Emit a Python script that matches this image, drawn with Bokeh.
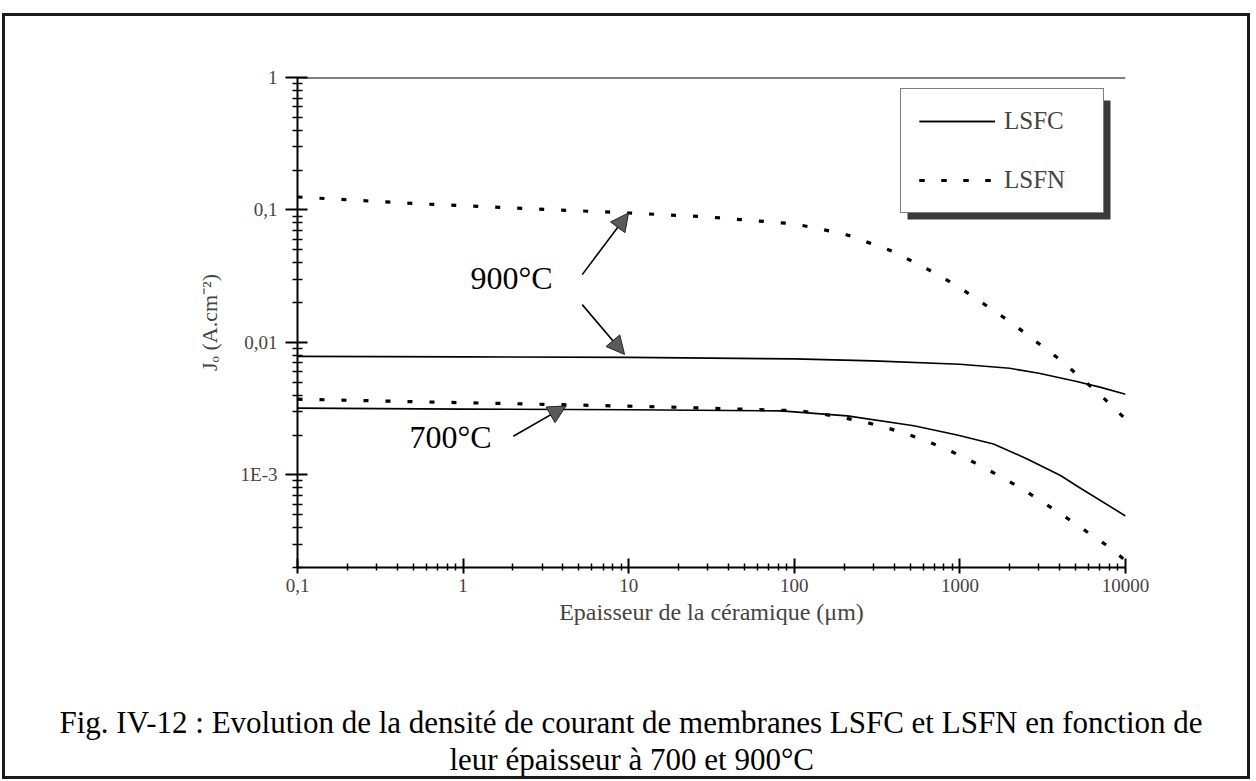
from bokeh.plotting import figure
from bokeh.models import (Range1d, FixedTicker, CustomJSTickFormatter, Span, Label, Arrow,
                          NormalHead, Legend, LegendItem, BoxAnnotation, Title)
from bokeh.embed import file_html
from bokeh.resources import INLINE

# ---------------- data ----------------
x_lsfc_900 = [0.1, 1, 10, 100, 300, 1000, 2000, 3000, 5000, 7000, 10000]
y_lsfc_900 = [0.00785, 0.00778, 0.00771, 0.00751, 0.00726, 0.00684, 0.00638, 0.00585, 0.00509, 0.0046, 0.00406]

x_lsfn_900 = [0.1, 0.5, 2, 10, 30, 100, 200, 400, 700, 1000, 2000, 4000, 7000, 10000]
y_lsfn_900 = [0.1253, 0.1119, 0.1035, 0.0949, 0.0886, 0.0785, 0.0660, 0.0483, 0.0336, 0.0259, 0.01439, 0.00745, 0.00406, 0.00264]

x_lsfc_700 = [0.1, 1, 10, 83, 209, 527, 963, 1596, 2549, 4051, 5203, 10000]
y_lsfc_700 = [0.00319, 0.00314, 0.0031, 0.003045, 0.00279, 0.00235, 0.002, 0.00171, 0.00132, 0.00099, 0.00081, 0.00049]

x_lsfn_700 = [0.1, 0.5, 2, 18, 109, 149, 204, 273, 367, 498, 680, 911, 1242, 1680, 2290, 3097, 4205, 5730, 7570, 10000]
y_lsfn_700 = [0.00373, 0.00357, 0.00345, 0.00325, 0.003045, 0.002874, 0.002683, 0.002489, 0.002256, 0.0020,
              0.001731, 0.001481, 0.001227, 0.001003, 0.000808, 0.000634, 0.000494, 0.000379, 0.000298, 0.000226]

x_tick_vals = [0.1, 1, 10, 100, 1000, 10000]
x_tick_labels = ["0,1", "1", "10", "100", "1000", "10000"]
y_tick_vals = [0.001, 0.01, 0.1, 1]
y_tick_labels = ["1E-3", "0,01", "0,1", "1"]

series_labels = ["LSFC", "LSFN"]
temp_labels = ["900°C", "700°C"]
x_title = "Epaisseur de la céramique (μm)"
y_title = "Jₒ (A.cm⁻²)"
caption_1 = "Fig. IV-12 : Evolution de la densité de courant de membranes LSFC et LSFN en fonction de"
caption_2 = "leur épaisseur à 700 et 900°C"

# annotation anchors (data coordinates)
label_900 = (1.96, 0.0308)
label_700 = (0.84, 0.00193)
arrows = [((5.24, 0.0325), (9.98, 0.095)),
          ((5.24, 0.0193), (9.44, 0.00812)),
          ((2.01, 0.00196), (4.19, 0.00332))]

FONT = "Liberation Serif"

x_minor = [d * m for d in x_tick_vals[:-1] for m in range(2, 10)]
y_minor = [d * m for d in [1e-4] + y_tick_vals[:-1] for m in range(2, 10) if d * m >= 2e-4]

p = figure(width=1242, height=760, x_axis_type="log", y_axis_type="log",
           x_range=Range1d(0.1, 10000), y_range=Range1d(2e-4, 1),
           output_backend="svg", toolbar_location=None,
           min_border_left=292, min_border_right=122, min_border_top=61, min_border_bottom=207)
p.styles = {"margin-top": "16px", "margin-left": "5px",
            "outline": "3px solid #1a1a1a", "outline-offset": "0px"}
p.grid.visible = False
p.outline_line_color = None
p.background_fill_color = "white"
p.border_fill_color = "white"

fmt_code = """
for (let i = 0; i < vals.length; i++) {
  if (Math.abs(Math.log10(tick) - Math.log10(vals[i])) < 1e-6) return labs[i];
}
return "";
"""

xa = p.xaxis[0]
xa.ticker = FixedTicker(ticks=x_tick_vals, minor_ticks=x_minor)
xa.formatter = CustomJSTickFormatter(args=dict(vals=x_tick_vals, labs=x_tick_labels), code=fmt_code)
xa.major_tick_in = 9
xa.major_tick_out = 6
xa.minor_tick_in = 4
xa.minor_tick_out = 3
xa.axis_line_width = 2
xa.major_tick_line_width = 2
xa.minor_tick_line_width = 1.5
xa.major_label_text_font = FONT
xa.major_label_text_font_size = "19px"
xa.major_label_standoff = 5
xa.axis_label = x_title
xa.axis_label_text_font = FONT
xa.axis_label_text_font_size = "24px"
xa.axis_label_text_font_style = "normal"
xa.axis_label_standoff = 4

ya = p.yaxis[0]
ya.ticker = FixedTicker(ticks=y_tick_vals, minor_ticks=y_minor)
ya.formatter = CustomJSTickFormatter(args=dict(vals=y_tick_vals, labs=y_tick_labels), code=fmt_code)
ya.major_tick_in = 10
ya.major_tick_out = 12
ya.minor_tick_in = 5
ya.minor_tick_out = 5
ya.axis_line_width = 2
ya.major_tick_line_width = 2
ya.minor_tick_line_width = 1.5
ya.major_label_text_font = FONT
ya.major_label_text_font_size = "19px"
ya.major_label_standoff = 8
ya.axis_label = y_title
ya.axis_label_text_font = FONT
ya.axis_label_text_font_size = "22px"
ya.axis_label_text_font_style = "normal"
ya.axis_label_standoff = 16

p.add_layout(Span(location=1, dimension="width", line_color="black", line_width=2.2))

solid = dict(line_color="black", line_width=1.6)
dotted = dict(line_color="black", line_width=3.2, line_dash="5 17")
r_c900 = p.line(x_lsfc_900, y_lsfc_900, **solid)
r_c700 = p.line(x_lsfc_700, y_lsfc_700, **solid)
r_n900 = p.line(x_lsfn_900, y_lsfn_900, **dotted)
r_n700 = p.line(x_lsfn_700, y_lsfn_700, **dotted)

# temperature labels and arrows
for (lx, ly), txt in zip([label_900, label_700], temp_labels):
    p.add_layout(Label(x=lx, y=ly, text=txt, text_align="center", text_baseline="middle",
                       text_font=FONT, text_font_size="32px", text_color="black"))
for (xs, ys), (xe, ye) in arrows:
    p.add_layout(Arrow(x_start=xs, y_start=ys, x_end=xe, y_end=ye, line_color="black", line_width=1.6,
                       end=NormalHead(size=18, fill_color="#5a5a5a", line_color="#222222", line_width=1)))

# legend shadow + legend
p.add_layout(BoxAnnotation(left=610, right=813, bottom=348, top=467,
                           left_units="screen", right_units="screen", top_units="screen", bottom_units="screen",
                           fill_color="#3a3a3a", fill_alpha=1, line_color=None))
legend = Legend(items=[LegendItem(label=series_labels[0], renderers=[r_c900, r_c700]),
                       LegendItem(label=series_labels[1], renderers=[r_n900, r_n700])],
                location=(603, 354), orientation="vertical", padding=18, spacing=31, margin=0,
                glyph_width=76, glyph_height=28, label_height=28, label_width=81, label_standoff=9,
                border_line_color="black", border_line_width=1.5, background_fill_color="white",
                background_fill_alpha=1, label_text_font=FONT, label_text_font_size="25px")
p.add_layout(legend)

# blank band between the axis title and the caption
gap = Title(text=" ", align="left", standoff=62, text_font=FONT, text_font_size="10px")
p.add_layout(gap, "below")

# caption (two title lines under the x axis)
t1 = Title(text=caption_1, align="left", offset=-238, standoff=0, text_font=FONT,
           text_font_size="31px", text_font_style="normal", text_color="black")
t2 = Title(text=caption_2, align="left", offset=152, standoff=0, text_font=FONT,
           text_font_size="31px", text_font_style="normal", text_color="black")
p.add_layout(t1, "below")
p.add_layout(t2, "below")

open("out.html", "w").write(file_html(p, INLINE))
